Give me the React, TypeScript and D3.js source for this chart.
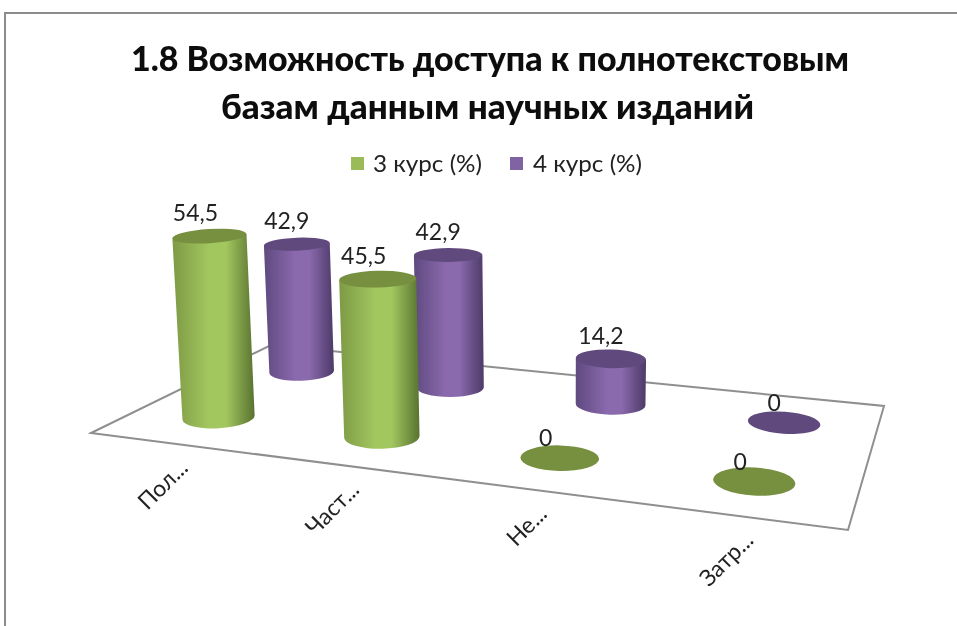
import React from "react";
import * as d3 from "d3";

const W = 957, H = 626;
const titleLines = ["1.8 Возможность доступа к полнотекстовым", "базам данным научных изданий"];
const categories = ["Пол...", "Част...", "Не...", "Затр..."];
const seriesNames = ["3 курс (%)", "4 курс (%)"];
const course3 = [54.5, 45.5, 0, 0];
const course4 = [42.9, 42.9, 14.2, 0];
const valueLabels3 = ["54,5", "45,5", "0", "0"];
const valueLabels4 = ["42,9", "42,9", "14,2", "0"];

// floor corners: front-left, front-right, back-right, back-left
const floorX = [91, 848, 884, 271];
const floorY = [433, 530, 406, 345];

function makeHomography(xs: number[], ys: number[]) {
  const [x0, x1, x2, x3] = xs, [y0, y1, y2, y3] = ys;
  const dx1 = x1 - x2, dx2 = x3 - x2, sx = x0 - x1 + x2 - x3;
  const dy1 = y1 - y2, dy2 = y3 - y2, sy = y0 - y1 + y2 - y3;
  const den = dx1 * dy2 - dx2 * dy1;
  const g = (sx * dy2 - dx2 * sy) / den;
  const h = (dx1 * sy - sx * dy1) / den;
  const a = x1 - x0 + g * x1, b = x3 - x0 + h * x3;
  const d = y1 - y0 + g * y1, e = y3 - y0 + h * y3;
  return (u: number, v: number) => {
    const w = g * u + h * v + 1;
    return { x: (a * u + b * v + x0) / w, y: (d * u + e * v + y0) / w, s: 1 / w };
  };
}
const floor = makeHomography(floorX, floorY);

const uScale = d3.scaleBand<string>().domain(categories).range([0, 1]);
const vScale = d3.scalePoint<string>().domain(seriesNames).range([0.24, 0.74]);
const heightScale = d3.scaleLinear().domain([0, 60]).range([0, 207]);
const tiltScale = d3.scaleLinear().domain([250, 481]).range([0.2, 0.34]);
const RADIUS = 37.5;
const VANISH_X = 560, VANISH_D = 6800;

type Ell = { cx: number; cy: number; rx: number; ry: number; rot: number };
const ell = (cx: number, cy: number, rx: number): Ell => ({
  cx, cy, rx, ry: rx * tiltScale(cy), rot: (cx - 480) / 80,
});
const endpoints = (e: Ell) => {
  const a = (e.rot * Math.PI) / 180;
  const dx = e.rx * Math.cos(a), dy = e.rx * Math.sin(a);
  return { lx: e.cx - dx, ly: e.cy - dy, rx: e.cx + dx, ry: e.cy + dy };
};

function buildCylinders(name: string, values: number[], labels: string[]) {
  return categories.map((c, i) => {
    const u = (uScale(c) ?? 0) + uScale.bandwidth() / 2;
    const p = floor(u, vScale(name) ?? 0);
    const h = heightScale(values[i]) * p.s;
    const k = h / VANISH_D;
    const base = ell(p.x, p.y, RADIUS * p.s);
    const top = ell(p.x + (p.x - VANISH_X) * k, p.y - h, RADIUS * p.s * (1 + k));
    return { key: name + c, base, top, h, label: labels[i] };
  });
}
const back = buildCylinders(seriesNames[1], course4, valueLabels4);
const front = buildCylinders(seriesNames[0], course3, valueLabels3);

const palette = [
  { id: "gradGreen", edgeL: "#7d9a45", mid: "#a3c75f", edgeR: "#587230", top: "#76903f", key: "#9bbb59", labelDx: -14 },
  { id: "gradPurple", edgeL: "#5f4a80", mid: "#8a69ad", edgeR: "#4c3a68", top: "#604a7b", key: "#8064a2", labelDx: -10 },
];

function Cyl({ c, col }: { c: ReturnType<typeof buildCylinders>[number]; col: typeof palette[number] }) {
  const b = endpoints(c.base), t = endpoints(c.top);
  const side = `M${t.lx},${t.ly}L${b.lx},${b.ly}A${c.base.rx},${c.base.ry} ${c.base.rot} 0 0 ${b.rx},${b.ry}L${t.rx},${t.ry}Z`;
  return (
    <g>
      {c.h > 0 && <path d={side} fill={`url(#${col.id})`} />}
      <ellipse
        cx={c.top.cx} cy={c.top.cy} rx={c.top.rx} ry={c.top.ry} fill={col.top}
        transform={`rotate(${c.top.rot} ${c.top.cx} ${c.top.cy})`}
      />
    </g>
  );
}

const FONT = "Lato, 'Noto Sans', sans-serif";
const legendX = [351, 510];
const legendTextX = [373, 533];

export default function App() {
  const floorPath = d3.line()(floorX.map((x, i) => [x, floorY[i]] as [number, number])) + "Z";
  const labelled = [
    ...back.map((c) => ({ c, dx: palette[1].labelDx })),
    ...front.map((c) => ({ c, dx: palette[0].labelDx })),
  ];
  return (
    <svg width={W} height={H} style={{ position: "absolute", left: 0, top: 0, display: "block", background: "#fff" }}>
      <defs>
        {palette.map((p) => (
          <linearGradient key={p.id} id={p.id} x1="0" x2="1" y1="0" y2="0">
            <stop offset="0" stopColor={p.edgeL} />
            <stop offset="0.45" stopColor={p.mid} />
            <stop offset="0.65" stopColor={p.mid} />
            <stop offset="1" stopColor={p.edgeR} />
          </linearGradient>
        ))}
        <filter id="soft" x="-5%" y="-5%" width="110%" height="110%">
          <feGaussianBlur stdDeviation="0.45" />
        </filter>
      </defs>
      <g filter="url(#soft)">
        <path d={`M5,${H}V13H${W}`} fill="none" stroke="#8c8c8c" strokeWidth={2} />
        <g fontFamily={FONT} fontWeight="900" fontSize={35} fill="#111" textAnchor="start">
          <text x={131} y={71} textLength={718} lengthAdjust="spacingAndGlyphs">{titleLines[0]}</text>
          <text x={221} y={119} textLength={533} lengthAdjust="spacingAndGlyphs">{titleLines[1]}</text>
        </g>
        <g fontFamily={FONT} fontSize={24} fill="#222">
          {seriesNames.map((n, i) => (
            <g key={n}>
              <rect x={legendX[i]} y={157} width={13} height={13} fill={palette[i].key} />
              <text x={legendTextX[i]} y={172} textLength={109} lengthAdjust="spacingAndGlyphs">{n}</text>
            </g>
          ))}
        </g>
        <path d={floorPath} fill="#fff" stroke="#8f8f8f" strokeWidth={2} />
        {back.map((c) => <Cyl key={c.key} c={c} col={palette[1]} />)}
        {front.map((c) => <Cyl key={c.key} c={c} col={palette[0]} />)}
        <g fontFamily={FONT} fontSize={23} fill="#222" textAnchor="middle">
          {labelled.map(({ c, dx }) => (
            <text key={c.key} x={c.top.cx + dx} y={c.top.cy + (c.h > 0 ? -15 : -12)}>{c.label}</text>
          ))}
        </g>
        <g fontFamily={FONT} fontSize={23} fill="#222" textAnchor="end">
          {categories.map((c) => {
            const p = floor((uScale(c) ?? 0) + uScale.bandwidth() / 2, 0);
            return (
              <text key={c} transform={`translate(${p.x + 18},${p.y + 26}) rotate(-45)`}>{c}</text>
            );
          })}
        </g>
      </g>
    </svg>
  );
}
